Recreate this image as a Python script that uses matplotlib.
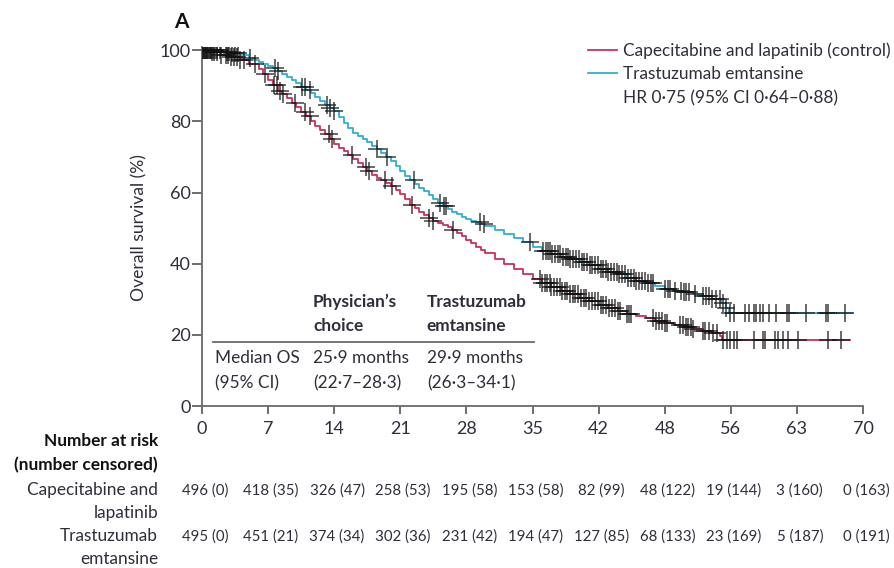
import numpy as np
import matplotlib
matplotlib.use("Agg")
import matplotlib.pyplot as plt
from matplotlib.transforms import blended_transform_factory

plt.rcParams['font.family'] = ['Lato', 'DejaVu Sans']

# Kaplan-Meier estimates, months vs % alive
ctrl_t = [0, 1, 2, 3, 4, 5, 6, 6.5, 7, 7.5, 8, 8.5, 9, 9.5, 10, 10.5, 11, 11.5, 12, 12.5,
          13, 13.5, 14, 14.5, 15, 15.5, 16, 16.5, 17, 17.5, 18, 18.5, 19, 19.5, 20, 20.5,
          21, 21.5, 22, 22.5, 23, 23.5, 24, 24.5, 25, 25.5, 26, 26.5, 27, 27.5, 28, 28.5,
          29, 29.5, 30, 31, 32, 33, 34, 35, 36, 37, 38, 39, 40, 41, 42, 43, 44, 45, 46,
          47, 48, 49, 50, 51, 52, 53, 54, 54.8, 55.1, 68.6]
ctrl_s = [100, 99.6, 98.8, 98.0, 97.2, 96.2, 94.8, 93.4, 91.6, 90.1, 88.6, 87.6, 86.6, 85.3, 84.0, 82.7,
          81.4, 80.0, 78.6, 77.5, 76.4, 75.0, 73.6, 72.6, 71.6, 70.5, 69.4, 68.3, 67.2, 66.1,
          65.0, 64.2, 63.4, 62.6, 61.8, 60.7, 59.6, 58.1, 56.6, 55.6, 54.6, 53.7, 52.8, 52.1,
          51.4, 50.8, 50.2, 49.4, 48.6, 47.7, 46.8, 45.8, 44.8, 43.9, 43.0, 41.2, 39.8, 38.6,
          37.2, 35.8, 34.6, 33.4, 32.4, 31.4, 30.4, 29.4, 28.4, 27.6, 26.8, 25.8, 25.2, 24.6,
          24.0, 23.4, 22.8, 22.2, 21.6, 21.0, 20.4, 19.8, 18.6, 18.6]

tdm1_t = [0, 1, 2, 3, 4, 5, 5.5, 6, 6.5, 7, 7.5, 8, 8.5, 9, 9.5, 10, 10.5, 11, 11.5, 12, 12.5,
          13, 13.5, 14, 14.5, 15, 15.5, 16, 16.5, 17, 17.5, 18, 18.5, 19, 19.5, 20, 20.5,
          21, 21.5, 22, 22.5, 23, 23.5, 24, 24.5, 25, 25.5, 26, 26.5, 27, 27.5, 28, 28.5,
          29, 29.5, 30, 31, 32, 33, 34, 35, 36, 37, 38, 39, 40, 41, 42, 43, 44, 45, 46,
          47, 48, 49, 50, 51, 52, 53, 54, 55, 55.5, 55.8, 68.8]
tdm1_s = [100, 100, 99.6, 99.2, 98.6, 97.8, 97.3, 96.8, 96.2, 95.6, 94.9, 94.2, 93.4, 92.6, 91.7,
          90.8, 89.8, 88.8, 87.9, 86.9, 85.8, 84.6, 83.7, 82.8, 81.2, 79.5, 78.1, 76.8, 75.9,
          75.0, 74.1, 73.2, 72.3, 71.2, 70.0, 68.8, 67.4, 66.0, 64.7, 63.5, 62.4, 61.4, 60.3,
          59.3, 58.2, 57.2, 56.3, 55.4, 54.6, 53.9, 53.2, 52.6, 52.1, 51.6, 51.1, 50.6, 49.6,
          48.4, 47.2, 46.0, 44.6, 43.6, 42.6, 42.0, 41.4, 40.4, 39.6, 38.6, 37.8, 37.0, 36.0,
          35.2, 34.5, 33.6, 33.0, 32.4, 32.0, 31.6, 30.9, 30.2, 29.0, 27.5, 26.2, 26.2]

# censoring times (months)
ctrl_cens = [0.1, 0.3, 0.5, 0.7, 0.9, 1.1, 1.3, 1.6, 2.0, 2.5, 2.8, 3.1, 3.4, 3.7, 4.0, 4.4,
             5.6, 6.7, 7.6, 7.9, 8.3, 8.6, 9.8, 10.9, 11.4, 13.4, 13.8, 15.9, 17.4, 17.7,
             19.4, 20.1, 22.2, 24.0, 24.5, 26.6,
             35.8, 36.0, 36.3, 36.5, 36.8, 37.0, 37.3, 37.6, 37.9, 38.1, 38.4, 38.7, 39.0,
             39.3, 39.5, 39.8, 40.1, 40.4, 40.7, 41.0, 41.3, 41.6, 41.9, 42.2, 42.5, 42.8,
             43.1, 43.4, 43.7, 44.0, 44.3, 45.0, 45.2, 45.4, 47.8, 48.1, 48.4, 48.7, 49.0,
             49.2, 50.6, 50.9, 51.2, 51.5, 51.8, 52.0, 53.0, 53.3, 53.7, 54.1, 54.5, 55.2,
             55.6, 55.9, 56.3, 56.6, 58.4, 59.4, 59.6, 60.7, 61.0, 61.5, 62.1, 63.1, 66.3, 67.7]
tdm1_cens = [0.1, 0.2, 0.3, 0.4, 0.5, 0.6, 0.8, 1.0, 1.2, 1.4, 1.6, 1.9, 2.6, 2.9, 3.2, 3.5,
             3.8, 5.1, 7.7, 8.0, 10.6, 10.9, 11.4, 13.2, 13.5, 14.0, 18.5, 19.6, 22.4, 25.2,
             25.6, 25.8, 29.4, 29.9, 34.7,
             36.1, 36.4, 36.6, 36.9, 37.1, 37.4, 37.7, 37.9, 38.2, 38.5, 38.8, 39.0, 39.3,
             39.6, 39.9, 40.2, 40.5, 40.8, 41.1, 41.3, 41.6, 41.9, 42.2, 42.5, 42.8, 43.0,
             43.3, 43.6, 43.9, 44.2, 44.5, 44.8, 45.1, 45.4, 45.7, 46.0, 46.3, 46.6, 46.9,
             47.2, 47.5, 47.8, 49.0, 49.3, 49.6, 50.1, 50.7, 51.0, 51.3, 51.6, 52.2, 53.1,
             53.4, 53.7, 54.0, 54.4, 54.8, 55.2, 55.5,
             55.9, 56.3, 57.5, 57.9, 58.4, 58.7, 59.1, 59.4, 60.0, 60.8, 61.9, 62.2, 64.0,
             66.1, 66.3, 68.1]

xticks = [0, 7, 14, 21, 28, 35, 42, 49, 56, 63, 70]
xtick_labels = ['0', '7', '14', '21', '28', '35', '42', '48', '56', '63', '70']
ctrl_risk = ['496 (0)', '418 (35)', '326 (47)', '258 (53)', '195 (58)', '153 (58)',
             '82 (99)', '48 (122)', '19 (144)', '3 (160)', '0 (163)']
tdm1_risk = ['495 (0)', '451 (21)', '374 (34)', '302 (36)', '231 (42)', '194 (47)',
             '127 (85)', '68 (133)', '23 (169)', '5 (187)', '0 (191)']

red = '#c8325a'
cyan = '#32aed2'
txt = '#2e2e3a'
fs = 12.4


def surv_at(times, tk, sk):
    idx = np.searchsorted(tk, times, side='right') - 1
    return np.asarray(sk)[idx]


fig = plt.figure(figsize=(8.94, 5.68), dpi=100)
ax = fig.add_axes([0.226, 0.2852, 0.7394, 0.6326])

l1, = ax.step(ctrl_t, ctrl_s, where='post', color=red, lw=1.3, zorder=3)
l2, = ax.step(tdm1_t, tdm1_s, where='post', color=cyan, lw=1.3, zorder=3)
ax.plot(ctrl_cens, surv_at(ctrl_cens, ctrl_t, ctrl_s), ls='none', marker='+',
        ms=13, mew=1.1, color='#111111', alpha=0.8, zorder=4)
ax.plot(tdm1_cens, surv_at(tdm1_cens, tdm1_t, tdm1_s), ls='none', marker='+',
        ms=13, mew=1.1, color='#111111', alpha=0.8, zorder=4)

ax.set_xlim(0, 70)
ax.set_ylim(0, 101)
ax.set_xticks(xticks)
ax.set_xticklabels(xtick_labels)
ax.set_yticks([0, 20, 40, 60, 80, 100])
for s in ['top', 'right']:
    ax.spines[s].set_visible(False)
for s in ['left', 'bottom']:
    ax.spines[s].set_color('#6a6a6a')
    ax.spines[s].set_linewidth(1.3)
ax.tick_params(axis='x', length=6, width=1.2, color='#555555', pad=5,
               labelsize=13, labelcolor=txt)
ax.tick_params(axis='y', length=7, width=1.2, color='#555555', pad=1,
               labelsize=13, labelcolor=txt)

fig.text(181 / 894, 1 - 22 / 568, 'A', fontsize=15, fontweight='bold',
         color='#111111', ha='center', va='center')
fig.text(139 / 894, 1 - 228 / 568, 'Overall survival (%)', rotation=90,
         fontsize=12.6, color=txt, ha='center', va='center')

# legend
fig.legend([l1, l2], ['Capecitabine and lapatinib (control)', 'Trastuzumab emtansine'],
           loc='upper left', bbox_to_anchor=(588 / 894, 1 - 42 / 568), frameon=False,
           fontsize=fs, handlelength=1.7, handletextpad=0.35, borderpad=0,
           borderaxespad=0, labelspacing=0.45, labelcolor=txt)
fig.text(623 / 894, 1 - 98 / 568, 'HR 0·75 (95% CI 0·64–0·88)', fontsize=fs,
         color=txt, ha='left', va='center')

# median OS box
ax.text(11.75, 29.3, 'Physician’s', fontsize=fs, fontweight='bold', color=txt, va='center')
ax.text(11.75, 22.6, 'choice', fontsize=fs, fontweight='bold', color=txt, va='center')
ax.text(23.8, 29.3, 'Trastuzumab', fontsize=fs, fontweight='bold', color=txt, va='center')
ax.text(23.8, 22.6, 'emtansine', fontsize=fs, fontweight='bold', color=txt, va='center')
ax.plot([1.2, 35.1], [18.1, 18.1], color='#6a6a6a', lw=1.3)
ax.text(1.4, 13.5, 'Median OS', fontsize=fs, color=txt, va='center')
ax.text(1.4, 6.5, '(95% CI)', fontsize=fs, color=txt, va='center')
ax.text(11.75, 13.5, '25·9 months', fontsize=fs, color=txt, va='center')
ax.text(11.75, 6.5, '(22·7–28·3)', fontsize=fs, color=txt, va='center')
ax.text(23.8, 13.5, '29·9 months', fontsize=fs, color=txt, va='center')
ax.text(23.8, 6.5, '(26·3–34·1)', fontsize=fs, color=txt, va='center')

# number at risk table
tr = blended_transform_factory(ax.transData, fig.transFigure)
for x, a, b in zip(xticks, ctrl_risk, tdm1_risk):
    ax.text(x + 0.3, 1 - 491 / 568, a, transform=tr, fontsize=10.8, color=txt,
            ha='center', va='center', clip_on=False)
    ax.text(x + 0.3, 1 - 537 / 568, b, transform=tr, fontsize=10.8, color=txt,
            ha='center', va='center', clip_on=False)

lx = 158 / 894
fig.text(lx, 1 - 441 / 568, 'Number at risk', fontsize=12.4, fontweight='bold',
         color='#111111', ha='right', va='center')
fig.text(lx, 1 - 465 / 568, '(number censored)', fontsize=12.4, fontweight='bold',
         color='#111111', ha='right', va='center')
for y, s in [(490, 'Capecitabine and'), (513, 'lapatinib'),
             (536, 'Trastuzumab'), (559, 'emtansine')]:
    fig.text(lx, 1 - y / 568, s, fontsize=fs, color=txt, ha='right', va='center')

fig.savefig('out.png', dpi=100)
